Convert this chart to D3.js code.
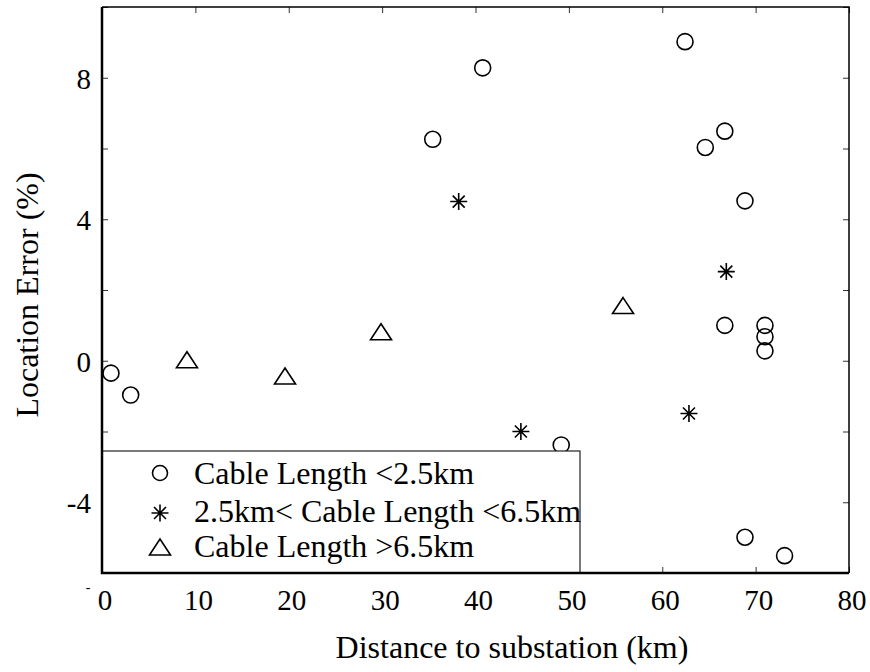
<!DOCTYPE html>
<html>
<head>
<meta charset="utf-8">
<script src="https://cdn.jsdelivr.net/npm/d3@7"></script>
<style>
  body { margin: 0; background: #fff; }
  svg text { font-family: "Liberation Serif", "Times New Roman", serif; fill: #000; }
</style>
</head>
<body>
<div id="chart"></div>
<script>
// data
var circleX = [0.96, 3.07, 35.42, 40.77, 49.18, 62.44, 64.61, 66.7, 68.86, 66.7, 71.0, 71.0, 71.0, 68.86, 73.1];
var circleY = [-0.35, -0.97, 6.26, 8.28, -2.38, 9.02, 6.03, 6.49, 4.52, 1.0, 1.0, 0.68, 0.28, -4.99, -5.51];
var starX = [38.2, 44.86, 62.86, 66.86];
var starY = [4.5, -2.0, -1.49, 2.52];
var triX = [9.1, 19.6, 29.88, 55.8];
var triY = [0.03, -0.43, 0.82, 1.56];
var xTicks = [0, 10, 20, 30, 40, 50, 60, 70, 80];
var yTicks = [-6, -4, -2, 0, 2, 4, 6, 8, 10];
var yTickLabels = [-4, 0, 4, 8];
var legendLabels = ["Cable Length <2.5km", "2.5km< Cable Length <6.5km", "Cable Length >6.5km"];

var W = 870, H = 672;
var box = {l: 102, r: 849, t: 7, b: 573};

var svg = d3.select("#chart").append("svg")
  .attr("width", W)
  .attr("height", H);

var x = d3.scaleLinear().domain([0, 80]).range([box.l, box.r]);
var y = d3.scaleLinear().domain([-6, 10]).range([box.b, box.t]);

// ticks, inward on all four sides
var tickLen = 6;
svg.append("g").attr("transform", "translate(0," + box.b + ")")
  .call(d3.axisBottom(x).tickValues(xTicks).tickSize(-tickLen).tickFormat(""))
  .call(g => g.select(".domain").remove());
svg.append("g").attr("transform", "translate(0," + box.t + ")")
  .call(d3.axisTop(x).tickValues(xTicks).tickSize(-tickLen).tickFormat(""))
  .call(g => g.select(".domain").remove());
svg.append("g").attr("transform", "translate(" + box.l + ",0)")
  .call(d3.axisLeft(y).tickValues(yTicks).tickSize(-tickLen).tickFormat(""))
  .call(g => g.select(".domain").remove());
svg.append("g").attr("transform", "translate(" + box.r + ",0)")
  .call(d3.axisRight(y).tickValues(yTicks).tickSize(-tickLen).tickFormat(""))
  .call(g => g.select(".domain").remove());
svg.selectAll(".tick line").attr("stroke", "#333").attr("stroke-width", 1);

// tick labels
svg.selectAll(".xlab")
  .data(xTicks)
  .enter().append("text")
  .attr("x", d => x(d) + 3)
  .attr("y", 610)
  .attr("text-anchor", "middle")
  .style("font-size", "29px")
  .text(d => d);

svg.selectAll(".ylab")
  .data(yTickLabels)
  .enter().append("text")
  .attr("x", 91)
  .attr("y", d => y(d) + 11)
  .attr("text-anchor", "end")
  .style("font-size", "29px")
  .text(d => d);

// stray dash left of the x origin
svg.append("text")
  .attr("x", 88)
  .attr("y", 592)
  .attr("text-anchor", "middle")
  .style("font-size", "14px")
  .text("-");

// axis titles
svg.append("text")
  .attr("x", 512)
  .attr("y", 658)
  .attr("text-anchor", "middle")
  .style("font-size", "32px")
  .text("Distance to substation (km)");

svg.append("text")
  .attr("transform", "translate(38,295) rotate(-90)")
  .attr("text-anchor", "middle")
  .style("font-size", "32px")
  .text("Location Error (%)");

// markers
var starPath = "M0,-8.5V8.5M-8.5,0H8.5M-6,-6L6,6M-6,6L6,-6";
var triPath = "M0,-8L10.5,8L-10.5,8Z";

svg.selectAll(".circ")
  .data(circleX)
  .enter().append("circle")
  .attr("cx", d => x(d))
  .attr("cy", (d, i) => y(circleY[i]))
  .attr("r", 8)
  .attr("fill", "none")
  .attr("stroke", "#000")
  .attr("stroke-width", 1.6);

svg.selectAll(".star")
  .data(starX)
  .enter().append("path")
  .attr("d", starPath)
  .attr("transform", (d, i) => "translate(" + x(d) + "," + y(starY[i]) + ")")
  .attr("fill", "none")
  .attr("stroke", "#000")
  .attr("stroke-width", 1.6);

svg.selectAll(".tri")
  .data(triX)
  .enter().append("path")
  .attr("d", triPath)
  .attr("transform", (d, i) => "translate(" + x(d) + "," + y(triY[i]) + ")")
  .attr("fill", "none")
  .attr("stroke", "#000")
  .attr("stroke-width", 1.6);

// legend box
var legend = svg.append("g");
legend.append("rect")
  .attr("x", box.l)
  .attr("y", 451)
  .attr("width", 580 - box.l)
  .attr("height", box.b - 451)
  .attr("fill", "#fff")
  .attr("stroke", "#222")
  .attr("stroke-width", 1.2);

var rowMarkY = [473, 513, 547];
var rowTextY = [484, 522, 557];
legend.append("circle")
  .attr("cx", 160).attr("cy", rowMarkY[0]).attr("r", 7.5)
  .attr("fill", "none").attr("stroke", "#000").attr("stroke-width", 1.6);
legend.append("path")
  .attr("d", starPath)
  .attr("transform", "translate(160," + rowMarkY[1] + ")")
  .attr("fill", "none").attr("stroke", "#000").attr("stroke-width", 1.6);
legend.append("path")
  .attr("d", triPath)
  .attr("transform", "translate(160," + rowMarkY[2] + ")")
  .attr("fill", "none").attr("stroke", "#000").attr("stroke-width", 1.6);

legend.selectAll(".lt")
  .data(legendLabels)
  .enter().append("text")
  .attr("x", 194)
  .attr("y", (d, i) => rowTextY[i])
  .style("font-size", "32px")
  .text(d => d);

// axes box: thicker on left and bottom
svg.append("path")
  .attr("d", "M" + box.l + "," + box.t + "H" + box.r + "V" + box.b)
  .attr("fill", "none").attr("stroke", "#000").attr("stroke-width", 1.5);
svg.append("path")
  .attr("d", "M" + box.l + "," + box.t + "V" + box.b + "H" + box.r)
  .attr("fill", "none").attr("stroke", "#000").attr("stroke-width", 2.5);
</script>
</body>
</html>
